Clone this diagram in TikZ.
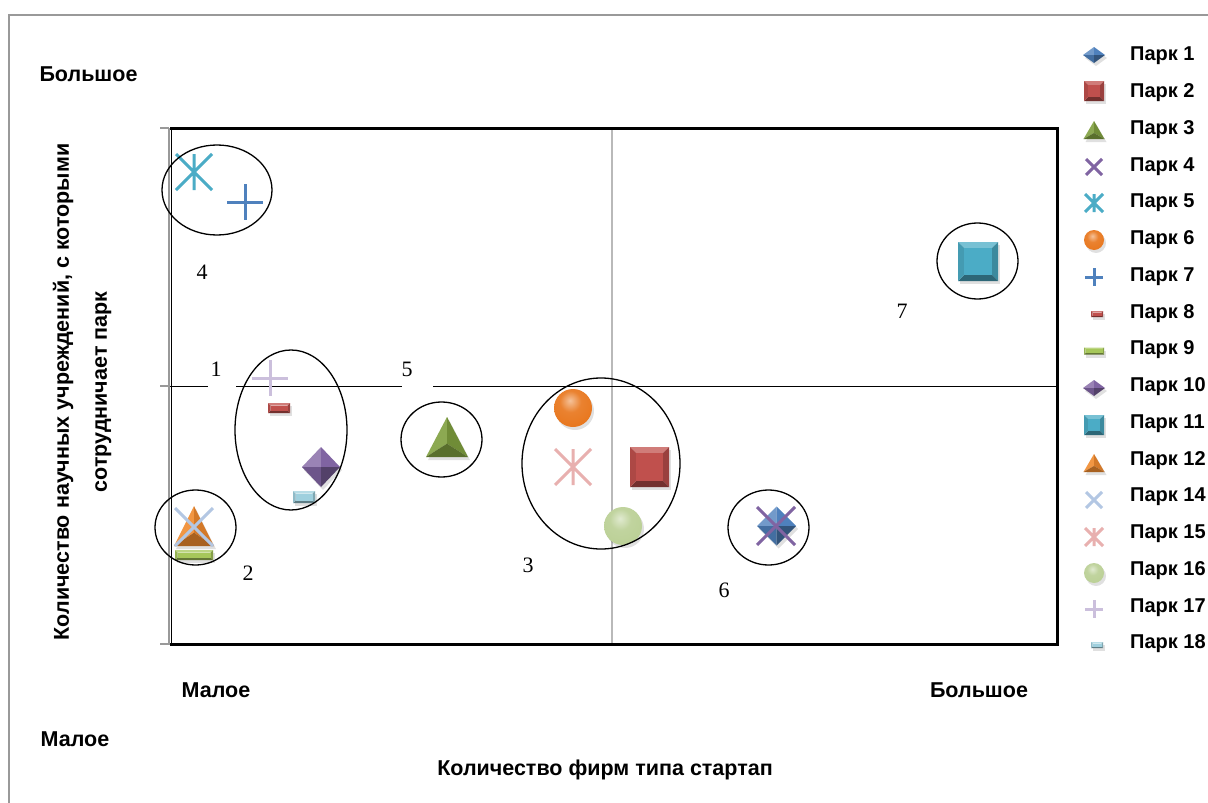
\documentclass[tikz,border=0pt]{standalone}
\usepackage{fontspec}
\setmainfont{Liberation Sans}
\newfontfamily\sernum{Liberation Serif}
\definecolor{cBlue}{HTML}{4F81BD}
\definecolor{cRed}{HTML}{C0504D}
\definecolor{cGreen}{HTML}{7F9F3F}
\definecolor{cPurple}{HTML}{8064A2}
\definecolor{cTeal}{HTML}{4BACC6}
\definecolor{cOrange}{HTML}{E8771E}
\definecolor{cLime}{HTML}{A6C75A}
\definecolor{cLBlue}{HTML}{B3C7E3}
\definecolor{cPink}{HTML}{E8B0AF}
\definecolor{cLGreen}{HTML}{BBD096}
\definecolor{cLPurple}{HTML}{CBBFDC}
\definecolor{cLTeal}{HTML}{9FD0DE}
\definecolor{cOrg}{HTML}{F08A2E}
\colorlet{ballc}{cOrange}
\pgfdeclareradialshading[ballc]{myball}{\pgfpoint{-4bp}{10bp}}{%
 color(0bp)=(ballc!45!white); color(14bp)=(ballc!92!white); color(32bp)=(ballc);
 color(52bp)=(ballc!72!black); color(100bp)=(ballc!68!black)}
% diamond: x y hw hh colour
\newcommand\MkDia[5]{%
 \fill[black,opacity=0.12] (#1+2,#2-#4+3)--(#1+#3+2,#2+3)--(#1+2,#2+#4+3)--(#1-#3+2,#2+3)--cycle;
 \fill[#5!80!white] (#1,#2)--(#1,#2-#4)--(#1-#3,#2)--cycle;
 \fill[#5] (#1,#2)--(#1,#2-#4)--(#1+#3,#2)--cycle;
 \fill[#5!85!black] (#1,#2)--(#1-#3,#2)--(#1,#2+#4)--cycle;
 \fill[#5!65!black] (#1,#2)--(#1+#3,#2)--(#1,#2+#4)--cycle;}
% bevelled box: x y hw hh colour inset
\newcommand\MkBox[6]{%
 \fill[black,opacity=0.12] (#1-#3+2,#2-#4+3) rectangle (#1+#3+2,#2+#4+3);
 \fill[#5!75!white] (#1-#3,#2-#4)--(#1+#3,#2-#4)--(#1+#3-#6,#2-#4+#6)--(#1-#3+#6,#2-#4+#6)--cycle;
 \fill[#5!80!black] (#1+#3,#2-#4)--(#1+#3,#2+#4)--(#1+#3-#6,#2+#4-#6)--(#1+#3-#6,#2-#4+#6)--cycle;
 \fill[#5!60!black] (#1-#3,#2+#4)--(#1+#3,#2+#4)--(#1+#3-#6,#2+#4-#6)--(#1-#3+#6,#2+#4-#6)--cycle;
 \fill[#5!90!black] (#1-#3,#2-#4)--(#1-#3,#2+#4)--(#1-#3+#6,#2+#4-#6)--(#1-#3+#6,#2-#4+#6)--cycle;
 \fill[#5] (#1-#3+#6,#2-#4+#6) rectangle (#1+#3-#6,#2+#4-#6);}
% triangle: x y hw hh colour
\newcommand\MkTri[5]{%
 \fill[black,opacity=0.12] (#1+2,#2-#4+3)--(#1+#3+2,#2+#4+3)--(#1-#3+2,#2+#4+3)--cycle;
 \fill[#5!90!white] (#1,#2-#4)--(#1-#3,#2+#4)--(#1,#2+#4/3)--cycle;
 \fill[#5!88!black] (#1,#2-#4)--(#1+#3,#2+#4)--(#1,#2+#4/3)--cycle;
 \fill[#5!70!black] (#1-#3,#2+#4)--(#1+#3,#2+#4)--(#1,#2+#4/3)--cycle;}
% ball: x y r colour
\newcommand\MkBall[4]{%
 \fill[black,opacity=0.12] (#1+2,#2+3) circle[radius=#3];
 \colorlet{ballc}{#4}%
 \shade[shading=myball] (#1,#2) circle[radius=#3];}
% line markers: x y h colour
\newcommand\MkX[4]{%
 \draw[#4,line width=3] (#1-#3,#2-#3)--(#1+#3,#2+#3) (#1-#3,#2+#3)--(#1+#3,#2-#3);}
\newcommand\MkPlus[4]{%
 \draw[#4,line width=3] (#1-#3,#2)--(#1+#3,#2) (#1,#2-#3)--(#1,#2+#3);}
\newcommand\MkAst[4]{%
 \draw[#4,line width=3] (#1-#3,#2-#3)--(#1+#3,#2+#3) (#1-#3,#2+#3)--(#1+#3,#2-#3) (#1,#2-#3)--(#1,#2+#3);}
\begin{document}
\begin{tikzpicture}[x=1pt,y=-1pt,
  lab/.style={font=\fontsize{21.5}{25}\selectfont\bfseries,inner sep=0},
  legt/.style={font=\fontsize{20}{24}\selectfont\bfseries,inner sep=0,anchor=west},
  num/.style={font=\sernum\fontsize{22}{24}\selectfont,inner sep=0},
  grp/.style={draw=black,line width=1.3}]
\useasboundingbox (0,0) rectangle (1208,803);
\fill[white] (0,0) rectangle (1208,803);
% outer frame
\draw[gray!80,line width=1.5] (9,810)--(9,15)--(1215,15);
% plot area
\draw[gray!55,line width=1.5] (612,128)--(612,644);
\draw[black,line width=1] (170,386)--(208,386) (236,386)--(402,386) (433,386)--(1057,386);
\draw[black,line width=3] (170,128)--(1057,128)--(1057,644)--(170,644);
\draw[black,line width=0.8] (171,128)--(171,644);
\draw[gray!80,line width=2] (168.5,128)--(168.5,645);
\draw[gray!80,line width=1.5] (160,128)--(169,128) (160,386)--(169,386) (160,644)--(169,644);
% group labels
\node[num] (n1) at (216,369) {1};
\node[num] (n5) at (407,369) {5};
\node[num] (n4) at (202,272) {4};
\node[num] (n2) at (248,573) {2};
\node[num] (n3) at (528,565) {3};
\node[num] (n6) at (724,590) {6};
\node[num] (n7) at (902,311) {7};
% markers
\MkAst{194}{172}{18}{cTeal}
\MkPlus{245}{202}{18}{cBlue}
\MkPlus{270}{378}{18}{cLPurple}
\MkBox{279}{408}{11}{5}{cRed}{2.5}
\MkDia{321}{467}{19}{20}{cPurple}
\MkBox{304}{497}{11}{6}{cLTeal}{2.5}
\MkTri{194}{526}{20}{20}{cOrg}
\MkX{194}{527}{19}{cLBlue}
\MkBox{194}{555}{19}{5}{cLime}{2.5}
\MkTri{447}{437}{21}{20}{cGreen}
\MkBall{573}{408}{19}{cOrange}
\MkAst{573}{467}{18}{cPink}
\MkBox{649.5}{467}{19.5}{20}{cRed}{6}
\MkBall{623}{526}{19}{cLGreen}
\MkDia{776.5}{526}{19.5}{19.5}{cBlue}
\MkX{776}{526}{19}{cPurple}
\MkBox{978}{261.5}{20}{19.5}{cTeal}{6}
% group ellipses
\draw[grp] (217,190) ellipse[x radius=55,y radius=45];
\draw[grp] (291,430) ellipse[x radius=56,y radius=80];
\draw[grp] (441.5,439.5) ellipse[x radius=40.5,y radius=37.5];
\draw[grp] (195.5,527.5) ellipse[x radius=40.5,y radius=37.5];
\draw[grp] (601,463.5) ellipse[x radius=79,y radius=85.5];
\draw[grp] (768.5,527.5) ellipse[x radius=40.5,y radius=37.5];
\draw[grp] (977.5,261) ellipse[x radius=40.5,y radius=38];
% axis texts
\node[lab] (yhi) at (88.5,74) {Большое};
\node[lab] (xlo) at (216,690) {Малое};
\node[lab] (xhi) at (979,690) {Большое};
\node[lab] (ylo) at (75,739) {Малое};
\node[lab] (xt) at (605,770) {Количество фирм типа стартап};
\node[lab,rotate=90,align=center,font=\fontsize{21.5}{38}\selectfont\bfseries] (yt) at (82,392)
  {Количество научных учреждений, с которыми\\сотрудничает парк};
% legend
\MkDia{1094}{55}{11}{8}{cBlue}
\MkBox{1094}{91}{10}{10}{cRed}{4}
\MkTri{1094}{130}{10.5}{9}{cGreen}
\MkX{1094}{167}{8}{cPurple}
\MkAst{1094}{203}{9}{cTeal}
\MkBall{1094}{240}{10}{cOrange}
\MkPlus{1094}{277}{9}{cBlue}
\MkBox{1097}{314}{6}{3}{cRed}{1.5}
\MkBox{1094}{351}{10}{3.5}{cLime}{1.5}
\MkDia{1094}{388}{11}{8}{cPurple}
\MkBox{1094}{425}{10}{10}{cTeal}{4}
\MkTri{1094}{463}{10.5}{9}{cOrg}
\MkX{1094}{500}{8}{cLBlue}
\MkAst{1094}{537}{9}{cPink}
\MkBall{1094}{573}{10}{cLGreen}
\MkPlus{1094}{609}{9}{cLPurple}
\MkBox{1097}{645}{6}{3}{cLTeal}{1.5}
\foreach \t/\yy [count=\i] in {1/56,2/92.75,3/129.5,4/166.25,5/203,6/239.75,7/276.5,8/313.25,9/350,10/386.75,11/423.5,12/460.25,14/497,15/533.75,16/570.5,17/607.25,18/644}
  \node[legt] (leg\i) at (1130,\yy) {Парк \t};
\end{tikzpicture}
\end{document}
